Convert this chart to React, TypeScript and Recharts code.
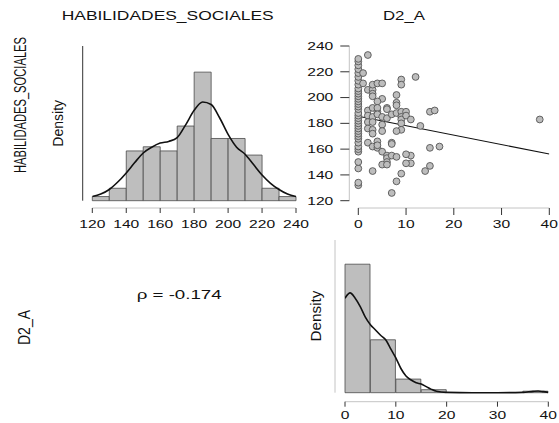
import React from 'react';
import { ComposedChart, Bar, Line, Scatter, XAxis, YAxis, ReferenceLine } from 'recharts';

const FONT = '"Liberation Sans", Arial, Helvetica, sans-serif';
const INK = '#111';
const AXIS_LIGHT = '#c4c4c4';
const BAR_FILL = '#bebebe';
const BAR_EDGE = '#4a4a4a';

// HABILIDADES_SOCIALES: histogram counts (bins of 10) and kernel density (same count units)
const habBins = ['120-130', '130-140', '140-150', '150-160', '160-170', '170-180', '180-190', '190-200', '200-210', '210-220', '220-230', '230-240'];
const habCounts = [1, 3, 12, 13, 12, 18, 31, 15, 15, 11, 3, 1];
const habTicks = [120, 140, 160, 180, 200, 220, 240];
const habCurveX = [120, 125, 130, 135, 140, 145, 150, 155, 160, 165, 170, 175, 180, 185, 190, 195, 200, 205, 210, 215, 220, 225, 230, 235, 240];
const habCurveY = [1, 1.6, 2.7, 4.5, 6.7, 9.2, 11.5, 12.9, 13.9, 14.3, 15.2, 18.3, 21.8, 23.8, 23.2, 20, 16, 12.9, 11.2, 8.7, 6.2, 4.2, 2.7, 1.6, 1];
const habTopCount = 37.3;

// D2_A: histogram counts (bins of 5) and kernel density (same count units)
const d2Bins = ['0-5', '5-10', '10-15', '15-20', '20-25', '25-30', '30-35', '35-40'];
const d2Counts = [85, 35, 9, 2, 0, 0, 0, 1];
const d2Ticks = [0, 10, 20, 30, 40];
const d2CurveX = [0, 1, 2, 3, 4, 5, 6, 7, 8, 9, 10, 11, 12, 13, 14, 15, 16, 17, 18, 20, 25, 30, 35, 37, 38, 39, 40];
const d2CurveY = [62.5, 66, 62.5, 57, 50, 45, 41.5, 38, 35, 29, 23, 16, 11, 8.4, 6.6, 5.7, 4, 2.2, 0.9, 0.2, 0, 0, 0.2, 0.9, 1.1, 0.7, 0.2];
const d2TopCount = 101;

// scatter: D2_A (x) vs HABILIDADES_SOCIALES (y)
const scatterTicksY = [120, 140, 160, 180, 200, 220, 240];
const scatterX = [
  0, 0, 0, 0, 0, 0, 0, 0, 0, 0, 0, 0, 0, 0, 0, 0, 0, 0, 0, 0, 0, 0, 0, 0, 0, 0, 0, 0, 0, 0, 0, 0, 0, 0, 0, 0,
  1, 2, 1, 2, 3, 3, 3, 3, 4, 5, 5, 4, 2, 3, 4, 4, 6, 6, 2, 3, 4, 5, 6, 7, 2, 3, 5, 2, 3, 5, 3,
  2, 4, 7, 3, 4, 5, 6, 6, 6, 7, 8, 5, 6, 3, 7, 8, 9, 8, 8, 8, 9, 9, 8, 9, 10, 9, 9, 9, 9, 8,
  10, 11, 12, 13, 11, 11, 14, 15, 15, 17, 15, 16, 38, 10, 10, 7, 4,
];
const scatterY = [
  132, 134, 145, 150, 158, 160, 162, 165, 168, 170, 172, 174, 176, 178, 180, 182, 184, 186, 188, 191, 193, 195, 197, 199, 201, 203, 205, 207, 210, 213, 216, 219, 222, 225, 228, 230,
  219, 233, 211, 206, 206, 210, 203, 201, 211, 211, 199, 197, 190, 192, 189, 192, 192, 191, 186, 185, 187, 185, 184, 187, 181, 181, 179, 176, 175, 174, 172,
  165, 166, 165, 162, 161, 158, 155, 153, 150, 155, 154, 148, 148, 143, 126, 135, 141, 202, 196, 194, 214, 210, 188, 189, 189, 185, 183, 180, 175, 174,
  186, 183, 216, 178, 155, 149, 143, 147, 161, 162, 189, 190, 183, 156, 149, 164, 163,
];
const fitX = [0, 40];
const fitY = [185.5, 156.2];

const habN = habCounts.reduce((a, b) => a + b, 0);
const d2N = d2Counts.reduce((a, b) => a + b, 0);
const habDens = (c: number) => c / (habN * 10);
const d2Dens = (c: number) => c / (d2N * 5);

const habData = habBins.map((bin, i) => ({ bin, density: habDens(habCounts[i]) }));
const habCurve = habCurveX.map((x, i) => ({ x, y: habDens(habCurveY[i]) }));
const d2Data = d2Bins.map((bin, i) => ({ bin, density: d2Dens(d2Counts[i]) }));
const d2Curve = d2CurveX.map((x, i) => ({ x, y: d2Dens(d2CurveY[i]) }));
const scatterData = scatterX.map((x, i) => ({ x, y: scatterY[i] }));
const fitData = fitX.map((x, i) => ({ x, y: fitY[i] }));

// axes in the source sit a few px off the data area; domains are padded so the
// tick rows land there, and the short axis lines are drawn as reference segments
const habTop = habDens(habTopCount);
const habBottom = -habTop * (7.3 / 154.7);
const habAxisX = 120 - 9.6 / 1.6975;

const scX0 = -9 / 4.775;
const scY0 = 120 - 7.3 / 1.289;

const d2Top = d2Dens(d2TopCount);
const d2Bottom = -d2Top * (9 / 152.7);
const d2AxisX = -10 / 5.0825;

// the source picture is stretched sideways, so labels get a horizontal scale
function XTick(props: any) {
  const { x, y, payload } = props;
  return (
    <g transform={`translate(${x},${y})`}>
      <text transform="scale(1.42,1)" textAnchor="middle" dy="0.71em" fontSize={11} fontFamily={FONT} fill={INK}>
        {payload.value}
      </text>
    </g>
  );
}

function YTick(props: any) {
  const { x, y, payload } = props;
  return (
    <g transform={`translate(${x},${y})`}>
      <text transform="scale(1.42,1)" textAnchor="end" dy="0.355em" fontSize={11} fontFamily={FONT} fill={INK}>
        {payload.value}
      </text>
    </g>
  );
}

function Dot(props: any) {
  const { cx, cy } = props;
  return <circle cx={cx} cy={cy} r={3.4} fill="#bdbdbd" stroke="#555" strokeWidth={0.9} />;
}

function HabHistogram() {
  return (
    <ComposedChart width={315} height={240} data={habData} barCategoryGap={0} margin={{ top: 46, right: 19, bottom: 2, left: 92.3 }}>
      <XAxis
        xAxisId="num"
        dataKey="x"
        type="number"
        domain={[120, 240]}
        allowDataOverflow
        ticks={habTicks}
        interval={0}
        height={30}
        tickSize={5}
        tickMargin={7}
        axisLine={{ stroke: AXIS_LIGHT }}
        tickLine={{ stroke: '#333' }}
        tick={<XTick />}
      />
      <XAxis xAxisId="bins" dataKey="bin" hide height={0} />
      <YAxis yAxisId="dens" hide width={0} type="number" domain={[habBottom, habTop]} allowDataOverflow />
      <ReferenceLine
        xAxisId="num"
        yAxisId="dens"
        segment={[{ x: habAxisX, y: 0 }, { x: habAxisX, y: habTop }]}
        ifOverflow="visible"
        stroke="#333"
        strokeWidth={1}
      />
      <Bar xAxisId="bins" yAxisId="dens" dataKey="density" fill={BAR_FILL} stroke={BAR_EDGE} strokeWidth={0.8} isAnimationActive={false} />
      <Line xAxisId="num" yAxisId="dens" data={habCurve} dataKey="y" type="monotone" dot={false} stroke={INK} strokeWidth={1.6} isAnimationActive={false} />
    </ComposedChart>
  );
}

function ScatterPanel() {
  return (
    <ComposedChart width={259} height={240} margin={{ top: 46, right: 9.7, bottom: 2, left: 9.3 }}>
      <XAxis
        xAxisId="x"
        dataKey="x"
        type="number"
        domain={[scX0, 40]}
        allowDataOverflow
        ticks={d2Ticks}
        interval={0}
        height={30}
        tickSize={7}
        tickMargin={5}
        axisLine={false}
        tickLine={{ stroke: '#333' }}
        tick={<XTick />}
      />
      <YAxis
        yAxisId="y"
        dataKey="y"
        type="number"
        domain={[scY0, 240]}
        allowDataOverflow
        ticks={scatterTicksY}
        interval={0}
        width={40}
        tickSize={9}
        tickMargin={7}
        axisLine={false}
        tickLine={{ stroke: '#333' }}
        tick={<YTick />}
      />
      <ReferenceLine xAxisId="x" yAxisId="y" segment={[{ x: scX0, y: 120 }, { x: scX0, y: 240 }]} ifOverflow="visible" stroke={AXIS_LIGHT} />
      <ReferenceLine xAxisId="x" yAxisId="y" segment={[{ x: 0, y: scY0 }, { x: 40, y: scY0 }]} ifOverflow="visible" stroke={AXIS_LIGHT} />
      <Scatter xAxisId="x" yAxisId="y" data={scatterData} shape={<Dot />} isAnimationActive={false} />
      <Line xAxisId="x" yAxisId="y" data={fitData} dataKey="y" type="linear" dot={false} stroke={INK} strokeWidth={1.1} isAnimationActive={false} />
    </ComposedChart>
  );
}

function D2Histogram() {
  return (
    <ComposedChart width={259} height={193} data={d2Data} barCategoryGap={0} margin={{ top: 10, right: 10.7, bottom: 0, left: 45 }}>
      <XAxis
        xAxisId="num"
        dataKey="x"
        type="number"
        domain={[0, 40]}
        allowDataOverflow
        ticks={d2Ticks}
        interval={0}
        height={21.3}
        tickSize={5}
        tickMargin={4}
        axisLine={{ stroke: AXIS_LIGHT }}
        tickLine={{ stroke: '#333' }}
        tick={<XTick />}
      />
      <XAxis xAxisId="bins" dataKey="bin" hide height={0} />
      <YAxis yAxisId="dens" hide width={0} type="number" domain={[d2Bottom, d2Top]} allowDataOverflow />
      <ReferenceLine
        xAxisId="num"
        yAxisId="dens"
        segment={[{ x: d2AxisX, y: 0 }, { x: d2AxisX, y: d2Top }]}
        ifOverflow="visible"
        stroke={AXIS_LIGHT}
      />
      <Bar xAxisId="bins" yAxisId="dens" dataKey="density" fill={BAR_FILL} stroke={BAR_EDGE} strokeWidth={0.8} isAnimationActive={false} />
      <Line xAxisId="num" yAxisId="dens" data={d2Curve} dataKey="y" type="monotone" dot={false} stroke={INK} strokeWidth={1.6} isAnimationActive={false} />
    </ComposedChart>
  );
}

function Labels() {
  const txt = { fontFamily: FONT, fill: INK };
  return (
    <svg width={559} height={423} style={{ position: 'absolute', left: 0, top: 0, pointerEvents: 'none' }}>
      <text x={61.7} y={20} fontSize={12.5} textLength={212} lengthAdjust="spacingAndGlyphs" {...txt}>HABILIDADES_SOCIALES</text>
      <text x={383} y={20} fontSize={12.5} textLength={42} lengthAdjust="spacingAndGlyphs" {...txt}>D2_A</text>
      <g transform="translate(25.5 105) rotate(-90) scale(1 1.4)">
        <text x={0} y={0} textAnchor="middle" fontSize={11.3} textLength={136} lengthAdjust="spacingAndGlyphs" {...txt}>HABILIDADES_SOCIALES</text>
      </g>
      <g transform="translate(30 327.5) rotate(-90) scale(1 1.2)">
        <text x={0} y={0} textAnchor="middle" fontSize={13} textLength={35} lengthAdjust="spacingAndGlyphs" {...txt}>D2_A</text>
      </g>
      <text x={63} y={123.3} transform="rotate(-90 63 123.3)" textAnchor="middle" fontSize={14} textLength={46.7} lengthAdjust="spacingAndGlyphs" {...txt}>Density</text>
      <text x={321} y={316} transform="rotate(-90 321 316)" textAnchor="middle" fontSize={15} textLength={51} lengthAdjust="spacingAndGlyphs" {...txt}>Density</text>
      <text x={136.7} y={299} fontSize={12.5} textLength={85} lengthAdjust="spacingAndGlyphs" {...txt}>ρ = -0.174</text>
    </svg>
  );
}

export default function App() {
  return (
    <div style={{ position: 'absolute', left: 0, top: 0, width: 559, height: 423, background: '#fff', overflow: 'hidden' }}>
      <div style={{ position: 'absolute', left: 0, top: 0 }}>
        <HabHistogram />
      </div>
      <div style={{ position: 'absolute', left: 300, top: 0 }}>
        <ScatterPanel />
      </div>
      <div style={{ position: 'absolute', left: 300, top: 230 }}>
        <D2Histogram />
      </div>
      <Labels />
    </div>
  );
}
